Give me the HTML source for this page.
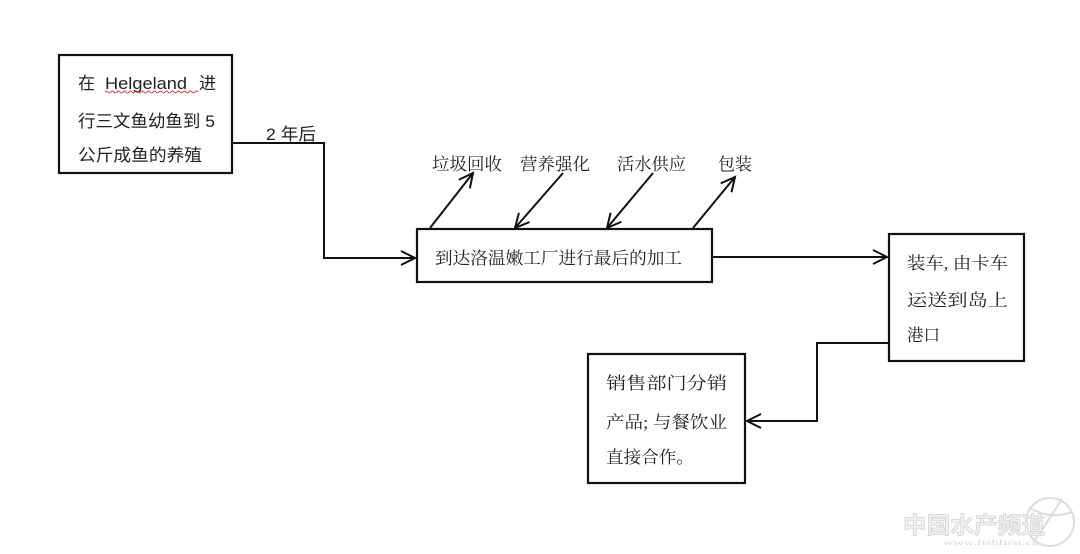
<!DOCTYPE html>
<html><head><meta charset="utf-8"><style>
html,body{margin:0;padding:0;background:#fff;}
svg{display:block;}
.s{font-family:"Liberation Sans","Noto Sans CJK SC",sans-serif;font-size:17px;fill:#222;}
.m{font-family:"Liberation Serif","Noto Serif CJK SC",serif;font-size:17px;fill:#222;}
</style></head><body>
<svg width="1080" height="554" viewBox="0 0 1080 554" xmlns="http://www.w3.org/2000/svg">
<defs>
<marker id="a" markerUnits="userSpaceOnUse" markerWidth="20" markerHeight="20" refX="15" refY="8" orient="auto">
<path d="M1,1 L15,8 L1,15" fill="none" stroke="#111" stroke-width="2"/>
</marker>
</defs>
<rect width="1080" height="554" fill="#fff"/>
<!-- Box 1 -->
<rect x="59" y="55" width="173" height="118" fill="none" stroke="#111" stroke-width="2.2"/>
<text class="s" x="78" y="89">在</text>
<text class="s" x="105" y="89" textLength="82" lengthAdjust="spacingAndGlyphs">Helgeland</text>
<text class="s" x="199" y="89">进</text>
<path d="M105,92 q1.5,-2 3,0 t3,0 t3,0 t3,0 t3,0 t3,0 t3,0 t3,0 t3,0 t3,0 t3,0 t3,0 t3,0 t3,0 t3,0 t3,0 t3,0 t3,0 t3,0 t3,0 t3,0 t3,0 t3,0 t3,0 t3,0 t3,0 t3,0 t3,0 t3,0 t3,0 t3,0" fill="none" stroke="#d33" stroke-width="0.9"/>
<text class="s" x="78" y="127" textLength="137" lengthAdjust="spacingAndGlyphs">行三文鱼幼鱼到 5</text>
<text class="s" x="78" y="161" textLength="124" lengthAdjust="spacingAndGlyphs">公斤成鱼的养殖</text>
<!-- connector 1 -->
<polyline points="233,143 324,143 324,258 415,258" fill="none" stroke="#111" stroke-width="2" marker-end="url(#a)"/>
<text class="s" x="266" y="140" font-size="16" textLength="50" lengthAdjust="spacingAndGlyphs">2 年后</text>
<!-- Box 2 -->
<rect x="417" y="229" width="295" height="53" fill="none" stroke="#111" stroke-width="2.2"/>
<text class="m" x="435" y="264" textLength="247" lengthAdjust="spacingAndGlyphs">到达洛温嫩工厂进行最后的加工</text>
<!-- labels -->
<text class="m" x="432" y="170" textLength="70" lengthAdjust="spacingAndGlyphs">垃圾回收</text>
<text class="m" x="520" y="170" textLength="70" lengthAdjust="spacingAndGlyphs">营养强化</text>
<text class="m" x="617" y="170" textLength="69" lengthAdjust="spacingAndGlyphs">活水供应</text>
<text class="m" x="718" y="170" textLength="34" lengthAdjust="spacingAndGlyphs">包装</text>
<!-- diagonal arrows -->
<line x1="430" y1="228" x2="473" y2="173" stroke="#111" stroke-width="2" marker-end="url(#a)"/>
<line x1="563" y1="173" x2="515" y2="228" stroke="#111" stroke-width="2" marker-end="url(#a)"/>
<line x1="653" y1="173" x2="607" y2="228" stroke="#111" stroke-width="2" marker-end="url(#a)"/>
<line x1="693" y1="228" x2="735" y2="177" stroke="#111" stroke-width="2" marker-end="url(#a)"/>
<!-- connector 2 -->
<line x1="713" y1="257" x2="887" y2="257" stroke="#111" stroke-width="2" marker-end="url(#a)"/>
<!-- Box 3 -->
<rect x="889" y="234" width="135" height="127" fill="none" stroke="#111" stroke-width="2.2"/>
<text class="m" x="907" y="269" textLength="101" lengthAdjust="spacingAndGlyphs">装车, 由卡车</text>
<text class="m" x="907" y="306" textLength="101" lengthAdjust="spacingAndGlyphs">运送到岛上</text>
<text class="m" x="907" y="341" textLength="33" lengthAdjust="spacingAndGlyphs">港口</text>
<!-- connector 3 -->
<polyline points="888,343 817,343 817,421 747,421" fill="none" stroke="#111" stroke-width="2" marker-end="url(#a)"/>
<!-- Box 4 -->
<rect x="588" y="354" width="157" height="129" fill="none" stroke="#111" stroke-width="2.2"/>
<text class="m" x="606" y="389" textLength="121" lengthAdjust="spacingAndGlyphs">销售部门分销</text>
<text class="m" x="606" y="428" textLength="121" lengthAdjust="spacingAndGlyphs">产品; 与餐饮业</text>
<text class="m" x="606" y="463" textLength="88" lengthAdjust="spacingAndGlyphs">直接合作。</text>
<!-- watermark -->
<g opacity="0.5">
<circle cx="1050" cy="522" r="24" fill="none" stroke="#bbb" stroke-width="2"/>
<path d="M1030,508 Q1050,520 1072,512 M1035,540 Q1052,515 1062,499" fill="none" stroke="#bbb" stroke-width="2"/>
<text x="903" y="533" font-family="'Noto Sans CJK SC',sans-serif" font-size="23" font-weight="bold" fill="#e4e4e4" stroke="#aaa" stroke-width="0.8" textLength="142" lengthAdjust="spacingAndGlyphs">中国水产频道</text>
<text x="943" y="545" font-family="'Liberation Serif',serif" font-size="7" fill="#aaa" textLength="96" lengthAdjust="spacingAndGlyphs">www.fishfirst.cn</text>
</g>
</svg>
</body></html>
